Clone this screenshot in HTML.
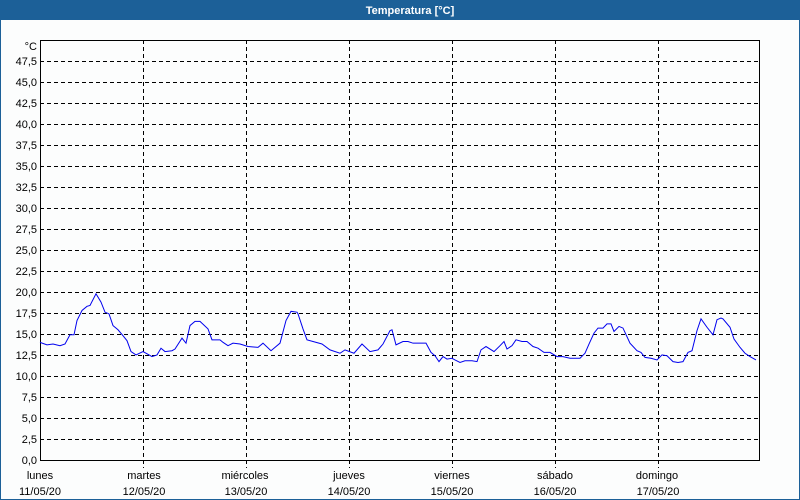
<!DOCTYPE html>
<html><head><meta charset="utf-8"><style>
html,body{margin:0;padding:0;}
body{width:800px;height:500px;background:#fcfdfd;position:relative;overflow:hidden;font-family:"Liberation Sans",sans-serif;}
</style></head><body>
<svg width="800" height="500" xmlns="http://www.w3.org/2000/svg" style="position:absolute;left:0;top:0">
<rect x="0" y="0" width="800" height="500" fill="#fcfdfd"/>
<rect x="0" y="0" width="800" height="20" fill="#1c6098"/>
<rect x="0" y="20" width="1" height="480" fill="#1c6098"/>
<rect x="799" y="20" width="1" height="480" fill="#1c6098"/>
<rect x="0" y="499" width="800" height="1" fill="#1c6098"/>
<text x="410" y="14" fill="#fff" font-size="11" font-weight="bold" text-anchor="middle">Temperatura [°C]</text>
<g stroke="#000" stroke-width="1" stroke-dasharray="4,3" fill="none">
<path d="M40 439.5H760M40 418.5H760M40 397.5H760M40 376.5H760M40 355.5H760M40 334.5H760M40 313.5H760M40 292.5H760M40 271.5H760M40 250.5H760M40 229.5H760M40 208.5H760M40 187.5H760M40 166.5H760M40 145.5H760M40 124.5H760M40 103.5H760M40 82.5H760M40 61.5H760"/>
<path d="M143.5 40V468M246.5 40V468M349.5 40V468M452.5 40V468M555.5 40V468M658.5 40V468"/>
</g>
<rect x="40.5" y="40.5" width="719" height="420" fill="none" stroke="#000"/>
<g font-size="11" fill="#000" text-anchor="end">
<text x="37" y="50">°C</text>
<text x="37" y="65">47,5</text><text x="37" y="86">45,0</text><text x="37" y="107">42,5</text><text x="37" y="128">40,0</text><text x="37" y="149">37,5</text><text x="37" y="170">35,0</text><text x="37" y="191">32,5</text><text x="37" y="212">30,0</text><text x="37" y="233">27,5</text><text x="37" y="254">25,0</text><text x="37" y="275">22,5</text><text x="37" y="296">20,0</text><text x="37" y="317">17,5</text><text x="37" y="338">15,0</text><text x="37" y="359">12,5</text><text x="37" y="380">10,0</text><text x="37" y="401">7,5</text><text x="37" y="422">5,0</text><text x="37" y="443">2,5</text><text x="37" y="464">0,0</text>
</g>
<g font-size="11" fill="#000" text-anchor="middle">
<text x="40" y="479">lunes</text><text x="40" y="495">11/05/20</text>
<text x="144" y="479">martes</text><text x="144" y="495">12/05/20</text>
<text x="245" y="479">miércoles</text><text x="246" y="495">13/05/20</text>
<text x="349" y="479">jueves</text><text x="349" y="495">14/05/20</text>
<text x="452" y="479">viernes</text><text x="452" y="495">15/05/20</text>
<text x="555" y="479">sábado</text><text x="555" y="495">16/05/20</text>
<text x="657" y="479">domingo</text><text x="658" y="495">17/05/20</text>
</g>
<g transform="translate(0,460.5) scale(1,-8.38)">
<polyline fill="none" stroke="#0000ee" stroke-width="1" vector-effect="non-scaling-stroke" points="40,14.1 47,13.8 53,13.9 60,13.7 65,13.9 70,15.0 74,15.0 77,16.7 82,17.9 87,18.4 90,18.5 96,19.9 101,18.9 105,17.7 109,17.5 113,16.1 118,15.6 123,14.9 127,14.3 131,13.0 136,12.6 143,13.0 152,12.4 157,12.6 161,13.4 165,13.0 172,13.1 175,13.3 182,14.6 186,14.0 190,16.1 195,16.6 200,16.6 208,15.7 212,14.4 220,14.4 223,14.1 228,13.7 233,14.0 240,13.9 248,13.6 258,13.5 263,14.0 271,13.1 280,14.0 286,16.7 291,17.8 297,17.7 298,17.5 303,15.7 307,14.4 313,14.2 322,13.9 330,13.2 340,12.8 345,13.2 354,12.8 362,13.9 370,13.0 378,13.2 383,13.9 390,15.5 392,15.6 396,13.8 403,14.2 408,14.2 413,14.0 426,14.0 431,12.9 435,12.5 439,11.8 443,12.4 447,12.1 452,12.2 455,12.0 460,11.7 465,11.9 472,11.9 477,11.8 481,13.2 486,13.6 494,13.0 500,13.7 504,14.2 507,13.3 512,13.7 516,14.4 522,14.2 527,14.2 533,13.6 538,13.4 544,12.9 550,12.9 557,12.4 563,12.4 570,12.2 580,12.2 585,12.8 589,13.9 594,15.2 598,15.8 603,15.8 607,16.3 611,16.3 614,15.4 619,16.0 623,15.8 630,14.0 637,13.1 641,12.9 645,12.3 651,12.2 657,12.0 662,12.6 667,12.5 673,11.8 678,11.7 683,11.8 688,12.9 692,13.1 697,15.5 701,16.9 707,15.9 713,15.0 717,16.8 721,17.0 723,16.9 730,15.9 734,14.5 740,13.5 745,12.8 750,12.4 756,12.0"/>
</g>
</svg>
</body></html>
